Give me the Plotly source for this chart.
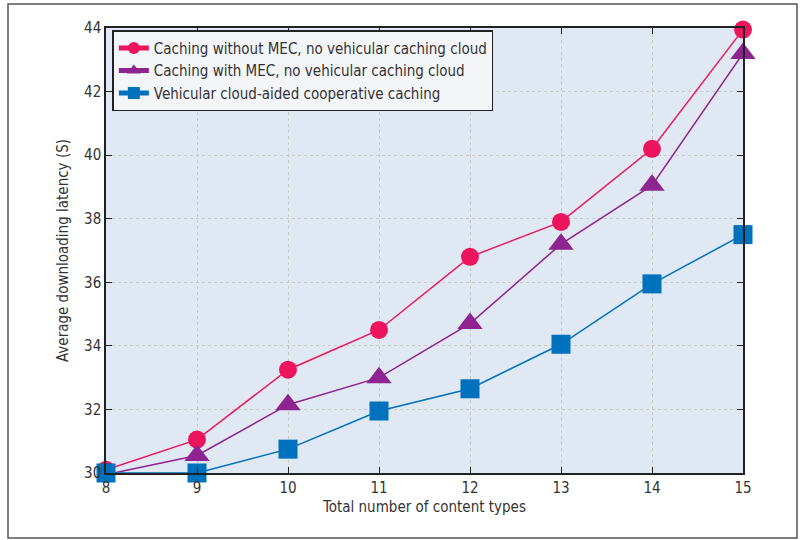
import plotly.graph_objects as go

# Number of content types
content_types = [8, 9, 10, 11, 12, 13, 14, 15]

# Average downloading latency (S) for each caching scheme
no_mec_latency = [30.1, 31.05, 33.25, 34.5, 36.8, 37.9, 40.2, 43.95]
mec_latency = [29.95, 30.55, 32.15, 33.0, 34.7, 37.2, 39.05, 43.2]
cloud_latency = [30.0, 30.0, 30.75, 31.95, 32.65, 34.05, 35.95, 37.5]

series_names = [
    "Caching without MEC, no vehicular caching cloud",
    "Caching with MEC, no vehicular caching cloud",
    "Vehicular cloud-aided cooperative caching",
]

y_ticks = [30, 32, 34, 36, 38, 40, 42, 44]

FONT = "DejaVu Sans Condensed, Open Sans, sans-serif"

fig = go.Figure()
styles = [
    (no_mec_latency, "#ec145c", "circle", 18),
    (mec_latency, "#8d2490", "triangle-up", 22),
    (cloud_latency, "#0071bc", "square", 19),
]
for name, (vals, color, symbol, size) in zip(series_names, styles):
    fig.add_trace(go.Scatter(
        x=content_types, y=vals, name=name, mode="lines+markers",
        line=dict(color=color, width=1.5),
        marker=dict(symbol=symbol, size=size, color=color),
        cliponaxis=False,
    ))

L, R, T, B = 106, 66, 28, 67
W, H = 809, 540
pw, ph = W - L - R, H - T - B

axis_common = dict(
    showline=True, linecolor="#222222", linewidth=1.5, mirror="ticks",
    ticks="inside", ticklen=6, tickcolor="#222222",
    showgrid=True, gridcolor="#c8c8c8", griddash="dot", gridwidth=1,
    zeroline=False, tickfont=dict(size=15, color="#333333", family=FONT),
)

fig.update_layout(
    width=W, height=H,
    margin=dict(l=L, r=R, t=T, b=B),
    paper_bgcolor="white",
    plot_bgcolor="#dfe8f3",
    font=dict(family=FONT, color="#333333"),
    xaxis=dict(range=[8, 15], tickvals=content_types,
               title=dict(text="Total number of content types", font=dict(size=15), standoff=6),
               **axis_common),
    yaxis=dict(range=[30, 44], tickvals=y_ticks,
               title=dict(text="Average downloading latency (S)", font=dict(size=15), standoff=12),
               **axis_common),
    legend=dict(
        x=0.01, y=0.995, xanchor="left", yanchor="top",
        bgcolor="#f3f5f9", bordercolor="#222222", borderwidth=1.5,
        font=dict(size=15, color="#333333", family=FONT),
        tracegroupgap=0, itemsizing="constant",
    ),
    showlegend=True,
)

# Outer frame around the figure
fig.add_shape(
    type="rect", xref="paper", yref="paper",
    x0=(8 - L) / pw, x1=(797 - L) / pw,
    y0=-(538 - (H - B)) / ph, y1=1 + (T - 4) / ph,
    line=dict(color="#555555", width=1.5), layer="below",
)

fig.write_html("out.html")
